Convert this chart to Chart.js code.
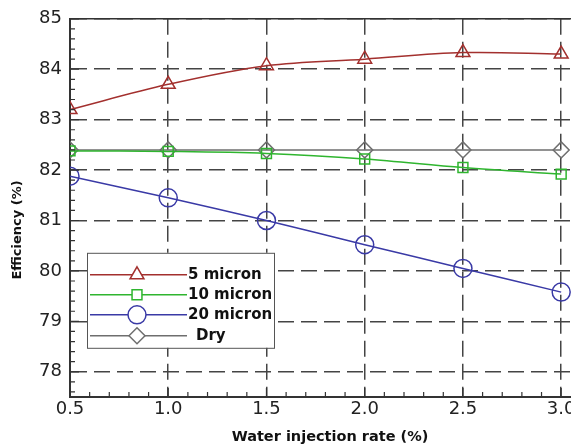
<!DOCTYPE html>
<html>
<head>
<meta charset="utf-8">
<script src="https://cdn.jsdelivr.net/npm/chart.js@4/dist/chart.umd.min.js"></script>
<style>
  html, body { margin: 0; padding: 0; background: #fff; }
  #wrap { width: 571px; height: 447px; }
</style>
</head>
<body>
<div id="wrap"><canvas id="effChart"></canvas></div>
<script>
// data
var injectionRate = [0.5, 1.0, 1.5, 2.0, 2.5, 3.0];
var micron5  = [83.2, 83.7, 84.07, 84.2, 84.33, 84.3];
var micron10 = [82.38, 82.37, 82.33, 82.22, 82.05, 81.92];
var micron20 = [81.88, 81.45, 81.0, 80.52, 80.05, 79.58];
var dry      = [82.4, 82.4, 82.4, 82.4, 82.4, 82.4];
var seriesNames = ['5 micron', '10 micron', '20 micron', 'Dry'];
var xTitle = 'Water injection rate (%)';
var yTitle = 'Efficiency (%)';

Chart.defaults.font.family = 'DejaVu Sans';
Chart.defaults.color = '#222';

function pts(vals) {
  return injectionRate.map(function (x, i) { return { x: x, y: vals[i] }; });
}

function series(name, vals, color, style, radius) {
  return {
    label: name,
    data: pts(vals),
    borderColor: color,
    borderWidth: 1.5,
    pointStyle: style,
    pointRadius: radius,
    pointHoverRadius: radius,
    pointBorderColor: color,
    pointBorderWidth: 1.5,
    pointBackgroundColor: 'rgba(255,255,255,0)',
    tension: 0.35
  };
}

// frame, minor ticks, titles and the boxed legend inside the plot
var framePlugin = {
  id: 'frame',
  afterDraw: function (chart) {
    var ctx = chart.ctx, area = chart.chartArea;
    var xs = chart.scales.x, ys = chart.scales.y;
    ctx.save();
    ctx.strokeStyle = '#333';
    ctx.lineWidth = 1.5;
    ctx.beginPath();
    ctx.moveTo(area.left, area.top);
    ctx.lineTo(area.right, area.top);
    ctx.stroke();

    // minor ticks, pointing inward
    ctx.lineWidth = 1.2;
    ctx.beginPath();
    for (var i = 0; i <= 25; i++) {
      var px = xs.getPixelForValue(0.5 + i * 0.1);
      var len = (i % 5 === 0) ? 9 : 5;
      ctx.moveTo(px, area.bottom);
      ctx.lineTo(px, area.bottom - len);
    }
    for (var j = 0; j <= 37; j++) {
      var v = 77.6 + j * 0.2;
      var py = ys.getPixelForValue(v);
      var lenY = (Math.abs(v - Math.round(v)) < 0.01) ? 9 : 5;
      ctx.moveTo(area.left, py);
      ctx.lineTo(area.left + lenY, py);
    }
    ctx.stroke();

    // axis titles
    ctx.fillStyle = '#111';
    ctx.font = 'bold 14.5px "DejaVu Sans"';
    ctx.textAlign = 'center';
    ctx.textBaseline = 'middle';
    ctx.fillText(xTitle, 330, 437);
    ctx.font = 'bold 13px "DejaVu Sans"';
    ctx.save();
    ctx.translate(18, 230);
    ctx.rotate(-Math.PI / 2);
    ctx.fillText(yTitle, 0, 0);
    ctx.restore();

    // legend box
    var bx = area.left + 17, by = area.top + 234, bw = 187, bh = 95;
    ctx.fillStyle = '#fff';
    ctx.fillRect(bx, by, bw, bh);
    ctx.strokeStyle = '#555';
    ctx.lineWidth = 1;
    ctx.strokeRect(bx + 0.5, by + 0.5, bw, bh);
    var rows = [22, 42, 62, 83];
    chart.data.datasets.forEach(function (ds, k) {
      var ry = by + rows[k];
      ctx.strokeStyle = ds.borderColor;
      ctx.lineWidth = 1.5;
      ctx.beginPath();
      ctx.moveTo(bx + 3, ry);
      ctx.lineTo(bx + 100, ry);
      ctx.stroke();
      ctx.fillStyle = '#fff';
      Chart.helpers.drawPoint(ctx, {
        pointStyle: ds.pointStyle,
        radius: ds.pointRadius,
        rotation: 0,
        borderWidth: 1.5
      }, bx + 50, ry);
      ctx.fillStyle = '#111';
      ctx.font = 'bold 15px "DejaVu Sans"';
      ctx.textAlign = 'left';
      ctx.textBaseline = 'middle';
      ctx.fillText(ds.label, bx + (k === 3 ? 109 : 101), ry);
    });
    ctx.restore();
  }
};

new Chart(document.getElementById('effChart'), {
  type: 'line',
  data: {
    datasets: [
      series(seriesNames[0], micron5, '#a3302e', 'triangle', 8),
      series(seriesNames[1], micron10, '#2fb52f', 'rect', 7),
      series(seriesNames[2], micron20, '#3a3aa6', 'circle', 9),
      series(seriesNames[3], dry, '#6e6e6e', 'rectRot', 8)
    ]
  },
  options: {
    responsive: true,
    maintainAspectRatio: false,
    animation: false,
    layout: { autoPadding: false, padding: { top: 16, right: 0, bottom: 0, left: 0 } },
    plugins: {
      legend: { display: false },
      tooltip: { enabled: false }
    },
    scales: {
      x: {
        type: 'linear',
        min: 0.5,
        max: 3.05,
        ticks: {
          stepSize: 0.5,
          includeBounds: false,
          padding: 2,
          font: { size: 18 },
          callback: function (v) { return v.toFixed(1); }
        },
        grid: { color: '#444', lineWidth: 1.5, drawTicks: false },
        border: { color: '#333', width: 2, dash: [16, 7] },
        afterFit: function (scale) {
          scale.height = 50;
          scale.paddingLeft = 0;
          scale.paddingRight = 0;
        }
      },
      y: {
        min: 77.5,
        max: 85,
        ticks: {
          stepSize: 1,
          includeBounds: false,
          padding: 8,
          font: { size: 18 }
        },
        grid: { color: '#444', lineWidth: 1.5, drawTicks: false },
        border: { color: '#333', width: 2, dash: [16, 7] },
        afterFit: function (scale) {
          scale.width = 70;
        }
      }
    }
  },
  plugins: [framePlugin]
});
</script>
</body>
</html>
